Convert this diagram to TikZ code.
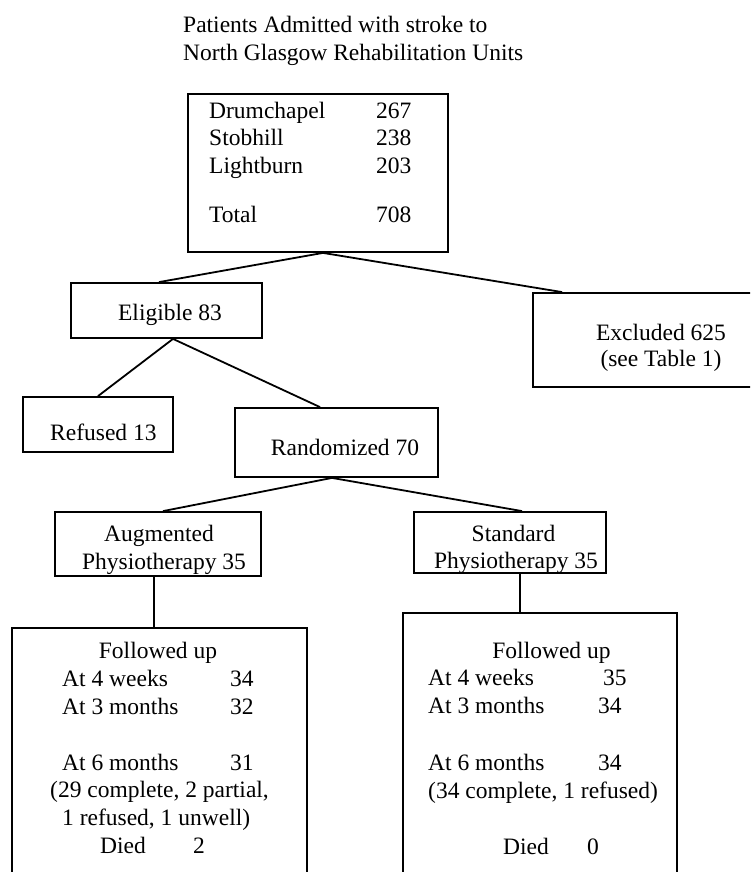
\documentclass[tikz,border=0pt]{standalone}
\usepackage{fontspec}
\setmainfont{Liberation Serif}
\begin{document}
\begin{tikzpicture}[x=1pt,y=-1pt,
  box/.style={draw, line width=1.8pt, inner sep=0pt, rectangle},
  conn/.style={line width=1.8pt},
  lbl/.style={inner sep=0pt, anchor=base west, font=\fontsize{23.5}{28}\selectfont},
  clbl/.style={inner sep=0pt, anchor=base, font=\fontsize{23.5}{28}\selectfont}]
\clip (0,0) rectangle (750,872);
\fill[white] (0,0) rectangle (750,872);

% title
\node[lbl] (title1) at (183,33) {Patients Admitted with stroke to};
\node[lbl] (title2) at (183,61) {North Glasgow Rehabilitation Units};

% boxes
\node[box, minimum width=260pt, minimum height=158pt] (top) at (318,173) {};
\node[box, minimum width=191pt, minimum height=55pt] (elig) at (166.5,310.5) {};
\node[box, minimum width=237pt, minimum height=94pt] (excl) at (651.5,340) {};
\node[box, minimum width=150pt, minimum height=55pt] (ref) at (98,424.5) {};
\node[box, minimum width=203pt, minimum height=69pt] (rand) at (336.5,442.5) {};
\node[box, minimum width=206pt, minimum height=64pt] (aug) at (158,544) {};
\node[box, minimum width=192pt, minimum height=61pt] (std) at (510,542.5) {};
\node[box, minimum width=295pt, minimum height=262pt] (fu1) at (159.5,759) {};
\node[box, minimum width=274pt, minimum height=277pt] (fu2) at (540,751.5) {};

% connectors
\draw[conn] ([xshift=5pt]top.south) -- ([xshift=-7.5pt]elig.north);
\draw[conn] ([xshift=5pt]top.south) -- ([xshift=30pt]excl.north west);
\draw[conn] ([xshift=6.5pt]elig.south) -- (ref.north);
\draw[conn] ([xshift=6.5pt]elig.south) -- ([xshift=-16.5pt]rand.north);
\draw[conn] ([xshift=-4.5pt]rand.south) -- ([xshift=5pt]aug.north);
\draw[conn] ([xshift=-4.5pt]rand.south) -- ([xshift=12pt]std.north);
\draw[conn] ([xshift=-4pt]aug.south) -- ([xshift=-5.5pt]fu1.north);
\draw[conn] ([xshift=10pt]std.south) -- ([xshift=-20pt]fu2.north);

% top box text
\node[lbl] (d1) at (209,118) {Drumchapel};
\node[lbl] (d2) at (376,118) {267};
\node[lbl] (s1) at (209,146) {Stobhill};
\node[lbl] (s2) at (376,146) {238};
\node[lbl] (l1) at (209,173) {Lightburn};
\node[lbl] (l2) at (376,173) {203};
\node[lbl] (tt1) at (209,222) {Total};
\node[lbl] (tt2) at (376,222) {708};

% middle texts
\node[clbl] (eligt) at (170,320) {Eligible 83};
\node[clbl] (exclt1) at (661,340) {Excluded 625};
\node[clbl] (exclt2) at (661,366) {(see Table 1)};
\node[lbl] (reft) at (50,440) {Refused 13};
\node[clbl] (randt) at (345,455) {Randomized 70};
\node[clbl] (augt1) at (159,541) {Augmented};
\node[clbl] (augt2) at (164,569) {Physiotherapy 35};
\node[clbl] (stdt1) at (513.5,541) {Standard};
\node[clbl] (stdt2) at (516,568) {Physiotherapy 35};

% follow-up left
\node[clbl] (fa0) at (158,658) {Followed up};
\node[lbl] (fa1) at (62,686) {At 4 weeks};
\node[lbl] (fa1n) at (230,686) {34};
\node[lbl] (fa2) at (62,714) {At 3 months};
\node[lbl] (fa2n) at (230,714) {32};
\node[lbl] (fa3) at (62,770) {At 6 months};
\node[lbl] (fa3n) at (230,770) {31};
\node[lbl] (fa4) at (50,797) {(29 complete, 2 partial,};
\node[lbl] (fa5) at (62,825) {1 refused, 1 unwell)};
\node[lbl] (fa6) at (100,853) {Died};
\node[lbl] (fa6n) at (193,853) {2};

% follow-up right
\node[clbl] (fb0) at (551.5,658) {Followed up};
\node[lbl] (fb1) at (428,685) {At 4 weeks};
\node[lbl] (fb1n) at (603,685) {35};
\node[lbl] (fb2) at (428,713) {At 3 months};
\node[lbl] (fb2n) at (598,713) {34};
\node[lbl] (fb3) at (428,770) {At 6 months};
\node[lbl] (fb3n) at (598,770) {34};
\node[lbl] (fb4) at (428,798) {(34 complete, 1 refused)};
\node[lbl] (fb6) at (503,854) {Died};
\node[lbl] (fb6n) at (587,854) {0};
\end{tikzpicture}
\end{document}
